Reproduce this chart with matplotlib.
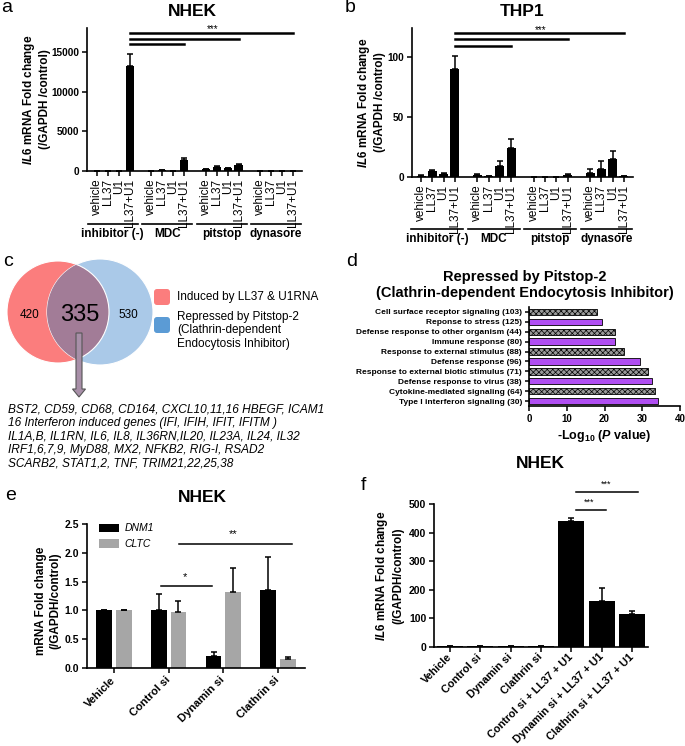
import matplotlib
matplotlib.use("Agg")
import matplotlib.pyplot as plt
import matplotlib.patches as patches
import numpy as np

plt.rcParams['font.family'] = ['Liberation Sans', 'DejaVu Sans']
plt.rcParams['mathtext.fontset'] = 'custom'
plt.rcParams['mathtext.rm'] = 'Liberation Sans:bold'
plt.rcParams['mathtext.it'] = 'Liberation Sans:italic:bold'
plt.rcParams['mathtext.bf'] = 'Liberation Sans:bold'
plt.rcParams['hatch.linewidth'] = 0.5

# --- datos ---
groups = ['inhibitor (-)', 'MDC', 'pitstop', 'dynasore']
treatments = ['vehicle', 'LL37', 'U1', 'LL37+U1']

# a: NHEK, IL6 fold change
a_vals = [[1, 50, 10, 13200], [20, 150, 30, 1350], [230, 520, 330, 800], [5, 5, 5, 5]]
a_err = [[0, 0, 0, 1500], [0, 30, 0, 300], [30, 60, 40, 80], [0, 0, 0, 0]]
a_sig = [16000, 16650, 17400]

# b: THP1
b_vals = [[1.2, 5, 2.5, 90], [2, 0.6, 9, 24], [0, 0, 0, 2], [3.5, 7, 15, 0.5]]
b_err = [[0.3, 1, 0.5, 11], [0.5, 0.2, 4, 8], [0, 0, 0, 0.5], [3, 6, 7, 0]]
b_sig = [109, 115, 120]

# c: venn
venn_ll37 = 420
venn_both = 335
venn_pitstop = 530
gene_lines = [
    "BST2, CD59, CD68, CD164, CXCL10,11,16 HBEGF, ICAM1",
    "16 Interferon induced genes (IFI, IFIH, IFIT, IFITM )",
    "IL1A,B, IL1RN, IL6, IL8, IL36RN,IL20, IL23A, IL24, IL32",
    "IRF1,6,7,9, MyD88, MX2, NFKB2, RIG-I, RSAD2",
    "SCARB2, STAT1,2, TNF, TRIM21,22,25,38",
]

# d: GO terms (de arriba a abajo)
d_terms = ['Cell surface receptor signaling (103)', 'Reponse to stress (125)',
           'Defense response to other organism (44)', 'Immune response (80)',
           'Response to external stimulus (88)', 'Defense response (96)',
           'Response to external biotic stimulus (71)', 'Defense response to virus (38)',
           'Cytokine-mediated signaling (64)', 'Type I interferon signaling (30)']
d_vals = [18.1, 19.4, 22.7, 22.9, 25.2, 29.3, 31.5, 32.7, 33.4, 34.2]

# e: knockdown
e_cats = ['Vehicle', 'Control si', 'Dynamin si', 'Clathrin si']
e_dnm1 = [1.0, 1.01, 0.2, 1.36]
e_dnm1_err = [0, 0.27, 0.07, 0.57]
e_cltc = [1.0, 0.97, 1.32, 0.16]
e_cltc_err = [0, 0.2, 0.41, 0.03]

# f: IL6 tras siRNA
f_cats = ['Vehicle', 'Control si', 'Dynamin si', 'Clathrin si',
          'Control si + LL37 + U1', 'Dynamin si + LL37 + U1', 'Clathrin si + LL37 + U1']
f_vals = [2, 3, 2, 3, 442, 160, 115]
f_err = [0, 0, 0, 0, 8, 48, 10]

W, H = 685, 746
fig = plt.figure(figsize=(W / 100, H / 100), dpi=100)


def box(l, t, r, b):
    return fig.add_axes([l / W, 1 - b / H, (r - l) / W, (b - t) / H])


def ftext(x, y, s, **kw):
    return fig.text(x / W, 1 - y / H, s, **kw)


def style(ax):
    for s in ['top', 'right']:
        ax.spines[s].set_visible(False)
    for s in ['left', 'bottom']:
        ax.spines[s].set_linewidth(1.2)
    ax.tick_params(width=1.1, length=3.5, labelsize=7.2, pad=2)


def grouped(ax, vals, errs, width, sig, ylim, star_y, line_y, lab_y):
    pos = []
    for g in range(len(groups)):
        pos += [g * 5 + i for i in range(len(treatments))]
    v = np.array(vals).ravel()
    e = np.array(errs).ravel()
    ax.bar(pos, v, width=width, color='black')
    ax.errorbar(pos, v, yerr=[np.zeros_like(e), e], fmt='none', ecolor='black',
                elinewidth=1.1, capsize=2.5, capthick=1.1)
    ax.set_ylim(*ylim)
    ax.set_xticks(pos)
    ax.set_xticklabels(treatments * len(groups), rotation=90)
    plt.setp(ax.get_yticklabels(), fontweight='bold')
    # lineas de significancia
    for k, y in enumerate(sig):
        ax.plot([3, 3 + 5 * (k + 1)], [y, y], color='black', lw=1.8, clip_on=False)
    ax.text(10.6, star_y, '***', ha='center', va='center', fontsize=7)
    tr = ax.get_xaxis_transform()
    for g, name in enumerate(groups):
        c = g * 5 + 1.45
        ax.plot([c - 2.3, c + 2.3], [line_y, line_y], color='black', lw=1.2,
                transform=tr, clip_on=False)
        ax.text(c, lab_y, name, ha='center', va='center', fontsize=8.5,
                fontweight='bold', transform=tr)
    style(ax)
    ax.tick_params(axis='x', labelsize=8.5)


# ---- a ----
ax_a = box(87, 28, 302, 171)
ax_a.set_xlim(-0.92, 18.83)
ax_a.set_yticks([0, 5000, 10000, 15000])
grouped(ax_a, a_vals, a_err, 0.75, a_sig, (0, 18000), 17850, -0.37, -0.44)
ax_a.set_ylabel("$\\it{IL6}$ mRNA Fold change\n(/GAPDH /control)", fontsize=8.5,
                fontweight='bold')
ax_a.yaxis.set_label_coords(-0.168, 0.5)

# ---- b ----
ax_b = box(412, 28, 633, 177)
ax_b.set_xlim(-0.8, 18.8)
ax_b.set_yticks([0, 50, 100])
grouped(ax_b, b_vals, b_err, 0.8, b_sig, (0, 124), 122.5, -0.35, -0.415)
ax_b.set_ylabel("$\\it{IL6}$ mRNA Fold change\n(/GAPDH /control)", fontsize=8.5,
                fontweight='bold')
ax_b.yaxis.set_label_coords(-0.118, 0.5)

# ---- c ----
ax_c = box(0, 255, 340, 475)
ax_c.set_xlim(0, 340)
ax_c.set_ylim(475, 255)
ax_c.axis('off')
red = patches.Circle((58, 312), 51, fc='#fb7d7d', ec='white', lw=0.8)
blue = patches.Circle((100, 312), 53, fc='#aac9e8', ec='white', lw=0.8)
ax_c.add_patch(red)
ax_c.add_patch(blue)
inter = patches.Circle((58, 312), 51, fc='#a27c97', ec='white', lw=0.8)
ax_c.add_patch(inter)
inter.set_clip_path(blue)
ax_c.text(30, 315, str(venn_ll37), ha='center', va='center', fontsize=8.5)
ax_c.text(80, 315, str(venn_both), ha='center', va='center', fontsize=17)
ax_c.text(128, 315, str(venn_pitstop), ha='center', va='center', fontsize=8.5)
ax_c.add_patch(patches.FancyArrow(79, 333, 0, 64, width=6, head_width=13, head_length=8,
                                  length_includes_head=True, fc='#a88fa8', ec='#555555',
                                  lw=0.8))
ax_c.add_patch(patches.FancyBboxPatch((154, 289), 16, 16,
                                      boxstyle='round,pad=0,rounding_size=3',
                                      fc='#fb7d7d', ec='none'))
ax_c.add_patch(patches.FancyBboxPatch((154, 317), 16, 16,
                                      boxstyle='round,pad=0,rounding_size=3',
                                      fc='#5b9bd5', ec='none'))
ax_c.text(177, 297, "Induced by LL37 & U1RNA", va='center', fontsize=8.5)
ax_c.text(177, 311, "Repressed by Pitstop-2\n(Clathrin-dependent\nEndocytosis Inhibitor)",
          va='top', fontsize=8.5, linespacing=1.15)
ax_c.text(8, 403, "\n".join(gene_lines), va='top', ha='left', fontsize=8.6,
          style='italic', linespacing=1.18)

# ---- d ----
ax_d = box(529, 307, 680, 406)
ypos = np.arange(len(d_terms))[::-1]
for i, (y, v) in enumerate(zip(ypos, d_vals)):
    if i % 2 == 0:
        ax_d.barh(y, v, height=0.65, color='#9a9a9a', edgecolor='black', lw=0.6,
                  hatch='xxxxxx')
    else:
        ax_d.barh(y, v, height=0.65, color='#b04ef2', edgecolor='black', lw=0.6)
ax_d.set_ylim(-0.5, len(d_terms) - 0.5)
ax_d.set_xlim(0, 40)
ax_d.set_xticks([0, 10, 20, 30, 40])
ax_d.set_yticks(ypos)
ax_d.set_yticklabels(d_terms, fontsize=6, fontweight='bold')
style(ax_d)
ax_d.tick_params(axis='y', labelsize=6, length=3)
ax_d.tick_params(axis='x', labelsize=7)
plt.setp(ax_d.get_xticklabels(), fontweight='bold')
ax_d.set_xlabel("-Log$_{10}$ ($\\it{P}$ value)", fontsize=9, fontweight='bold', labelpad=3)
ftext(525, 285, "Repressed by Pitstop-2\n(Clathrin-dependent Endocytosis Inhibitor)",
      ha='center', va='center', fontsize=10.5, fontweight='bold')

# ---- e ----
ax_e = box(87, 524, 305, 668)
xe = np.arange(len(e_cats))
ax_e.bar(xe - 0.18, e_dnm1, width=0.29, color='black', label='DNM1')
ax_e.bar(xe + 0.18, e_cltc, width=0.29, color='#a6a6a6', label='CLTC')
ax_e.errorbar(xe - 0.18, e_dnm1, yerr=[np.zeros(4), e_dnm1_err], fmt='none',
              ecolor='black', elinewidth=1.1, capsize=2.5, capthick=1.1)
ax_e.errorbar(xe + 0.18, e_cltc, yerr=[np.zeros(4), e_cltc_err], fmt='none',
              ecolor='black', elinewidth=1.1, capsize=2.5, capthick=1.1)
ax_e.set_xlim(-0.49, 3.49)
ax_e.set_ylim(0, 2.5)
ax_e.set_yticks([0, 0.5, 1.0, 1.5, 2.0, 2.5])
ax_e.set_yticklabels(['0.0', '0.5', '1.0', '1.5', '2.0', '2.5'])
ax_e.set_xticks(xe)
ax_e.set_xticklabels(e_cats, rotation=45, ha='right', va='center', rotation_mode='anchor')
style(ax_e)
ax_e.tick_params(axis='y', labelsize=7.5)
ax_e.tick_params(axis='x', labelsize=8, pad=4)
plt.setp(ax_e.get_xticklabels(), fontweight='bold')
plt.setp(ax_e.get_yticklabels(), fontweight='bold')
ax_e.plot([0.86, 1.79], [1.42, 1.42], color='black', lw=1.1)
ax_e.text(1.3, 1.5, '*', ha='center', va='bottom', fontsize=8)
ax_e.plot([1.19, 3.25], [2.16, 2.16], color='black', lw=1.1)
ax_e.text(2.18, 2.24, '**', ha='center', va='bottom', fontsize=8)
leg = ax_e.legend(loc='upper left', bbox_to_anchor=(0.03, 1.04), frameon=False,
                  handlelength=1.9, handleheight=0.9, handletextpad=0.6,
                  labelspacing=0.55, borderpad=0, prop={'style': 'italic', 'size': 7.5})
ax_e.set_ylabel("mRNA Fold change\n(/GAPDH/control)", fontsize=8.5, fontweight='bold')
ax_e.yaxis.set_label_coords(-0.118, 0.47)

# ---- f ----
ax_f = box(434, 504, 648, 647)
xf = np.arange(len(f_cats))
ax_f.bar(xf, f_vals, width=0.85, color='black')
ax_f.errorbar(xf, f_vals, yerr=[np.zeros(len(f_err)), f_err], fmt='none',
              ecolor='black', elinewidth=1.1, capsize=2.5, capthick=1.1)
ax_f.set_xlim(-0.53, 6.53)
ax_f.set_ylim(0, 500)
ax_f.set_xticks(xf)
ax_f.set_xticklabels(f_cats, rotation=45, ha='right', va='center', rotation_mode='anchor')
style(ax_f)
ax_f.tick_params(axis='y', labelsize=7.5)
ax_f.tick_params(axis='x', labelsize=7.8, pad=2.5)
plt.setp(ax_f.get_xticklabels(), fontweight='bold')
plt.setp(ax_f.get_yticklabels(), fontweight='bold')
ax_f.plot([4.15, 5.15], [480, 480], color='black', lw=1.1, clip_on=False)
ax_f.text(4.6, 505, '***', ha='center', va='center', fontsize=6.5)
ax_f.plot([4.15, 6.2], [543, 543], color='black', lw=1.1, clip_on=False)
ax_f.text(5.15, 568, '***', ha='center', va='center', fontsize=6.5)
ax_f.set_ylabel("$\\it{IL6}$ mRNA Fold change\n(/GAPDH/control)", fontsize=8.5,
                fontweight='bold')
ax_f.yaxis.set_label_coords(-0.14, 0.5)

# ---- titulos y letras ----
ftext(192, 12, "NHEK", ha='center', va='center', fontsize=12.5, fontweight='bold')
ftext(522, 12, "THP1", ha='center', va='center', fontsize=12.5, fontweight='bold')
ftext(202, 497, "NHEK", ha='center', va='center', fontsize=12.5, fontweight='bold')
ftext(540, 463, "NHEK", ha='center', va='center', fontsize=12.5, fontweight='bold')
for letter, x, y in [('a', 7, 8), ('b', 350, 8), ('c', 8, 261), ('d', 352, 261),
                     ('e', 11, 496), ('f', 363, 485)]:
    ftext(x, y, letter, ha='center', va='center', fontsize=14)

fig.savefig("out.png", dpi=100)
